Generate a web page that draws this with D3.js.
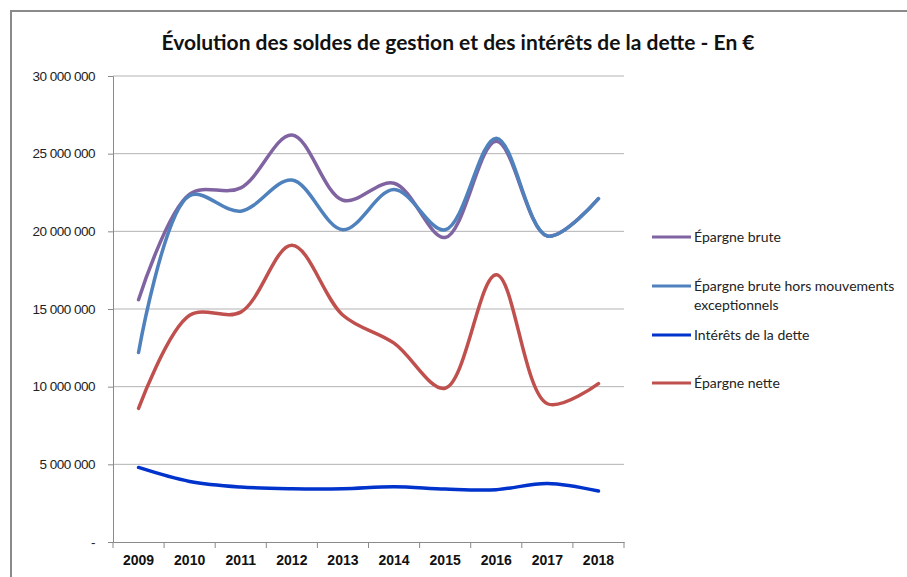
<!DOCTYPE html>
<html>
<head>
<meta charset="utf-8">
<script src="https://cdn.jsdelivr.net/npm/d3@7"></script>
<style>
  body { margin: 0; background: #fff; }
  svg { display: block; font-family: Lato, "Open Sans", sans-serif; }
</style>
</head>
<body>
<div id="chart"></div>
<script>
// values (euros)
var years = ["2009", "2010", "2011", "2012", "2013", "2014", "2015", "2016", "2017", "2018"];
var epargneBrute = [15600000, 22400000, 22800000, 26200000, 22000000, 23100000, 19600000, 25800000, 19700000, 22100000];
var epargneHorsMvt = [12200000, 22300000, 21300000, 23300000, 20100000, 22700000, 20100000, 26000000, 19700000, 22100000];
var interets = [4800000, 3900000, 3540000, 3430000, 3430000, 3560000, 3410000, 3370000, 3770000, 3280000];
var epargneNette = [8600000, 14600000, 14800000, 19100000, 14600000, 12800000, 9900000, 17200000, 8900000, 10200000];
var yTicks = [0, 5000000, 10000000, 15000000, 20000000, 25000000, 30000000];

var series = [
  {name: ["Épargne brute"], values: epargneBrute, color: "#8064a2"},
  {name: ["Épargne brute hors mouvements", "exceptionnels"], values: epargneHorsMvt, color: "#4f81bd"},
  {name: ["Intérêts de la dette"], values: interets, color: "#0033cc"},
  {name: ["Épargne nette"], values: epargneNette, color: "#c0504d"}
];
var legendY = [237, 286, 335, 383];

var W = 907, H = 577;
var plot = {left: 113, right: 624, top: 76, bottom: 542};

var svg = d3.select("#chart").append("svg")
  .attr("width", W)
  .attr("height", H);

// outer chart frame
svg.append("rect")
  .attr("x", 11).attr("y", 11)
  .attr("width", W + 20).attr("height", H + 20)
  .attr("fill", "none")
  .attr("stroke", "#8a8a8a")
  .attr("stroke-width", 2);

// title
svg.append("text")
  .attr("x", 458)
  .attr("y", 50)
  .attr("text-anchor", "middle")
  .style("font-size", "21px")
  .style("font-weight", "bold")
  .attr("fill", "#111")
  .text("Évolution des soldes de gestion et des intérêts de la dette - En €");

var x = d3.scaleBand()
  .domain(years)
  .range([plot.left, plot.right]);

var y = d3.scaleLinear()
  .domain([0, 30000000])
  .range([plot.bottom, plot.top]);

var fmt = function (d) {
  if (d === 0) return "-";
  return d3.format(",")(d).replace(/,/g, " ");
};

// gridlines
svg.append("g")
  .selectAll("line")
  .data(yTicks.slice(1))
  .enter().append("line")
    .attr("x1", plot.left).attr("x2", plot.right)
    .attr("y1", d => y(d)).attr("y2", d => y(d))
    .attr("stroke", "#b3b3b3")
    .attr("stroke-width", 1);

// y axis
var yAxis = svg.append("g")
  .attr("transform", "translate(" + plot.left + ",0)")
  .call(d3.axisLeft(y).tickValues(yTicks).tickFormat(fmt).tickSize(5).tickPadding(13));
yAxis.select(".domain").attr("stroke", "#8a8a8a");
yAxis.selectAll(".tick line").attr("stroke", "#8a8a8a");
yAxis.selectAll(".tick text")
  .style("font-size", "13.5px")
  .style("letter-spacing", "-0.5px")
  .attr("fill", "#222");

// x axis
var xAxis = svg.append("g")
  .attr("transform", "translate(0," + plot.bottom + ")")
  .call(d3.axisBottom(x).tickSize(0).tickPadding(13));
xAxis.select(".domain").attr("stroke", "#8a8a8a");
xAxis.selectAll(".tick text")
  .style("font-size", "14px")
  .style("font-weight", "bold")
  .attr("fill", "#111");

// category separators on x axis
svg.append("g")
  .selectAll("line")
  .data(years.concat(["end"]))
  .enter().append("line")
    .attr("x1", (d, i) => plot.left + i * x.bandwidth())
    .attr("x2", (d, i) => plot.left + i * x.bandwidth())
    .attr("y1", plot.bottom).attr("y2", plot.bottom + 6)
    .attr("stroke", "#8a8a8a");

// smoothed lines like the spreadsheet
var line = d3.line()
  .x((d, i) => x(years[i]) + x.bandwidth() / 2)
  .y(d => y(d))
  .curve(d3.curveCatmullRom.alpha(0.5));

svg.append("g")
  .selectAll("path")
  .data(series)
  .enter().append("path")
    .attr("d", d => line(d.values))
    .attr("fill", "none")
    .attr("stroke", d => d.color)
    .attr("stroke-width", 3.5)
    .attr("stroke-linecap", "round")
    .attr("stroke-linejoin", "round");

// legend
var legend = svg.append("g")
  .selectAll("g")
  .data(series)
  .enter().append("g")
    .attr("transform", (d, i) => "translate(652," + legendY[i] + ")");

legend.append("line")
  .attr("x1", 0).attr("x2", 39)
  .attr("y1", 0).attr("y2", 0)
  .attr("stroke", d => d.color)
  .attr("stroke-width", 3);

legend.append("text")
  .attr("x", 42)
  .attr("y", 5)
  .style("font-size", "14px")
  .attr("fill", "#222")
  .selectAll("tspan")
  .data(d => d.name)
  .enter().append("tspan")
    .attr("x", 42)
    .attr("dy", (d, i) => i === 0 ? 0 : 19)
    .text(d => d);
</script>
</body>
</html>
